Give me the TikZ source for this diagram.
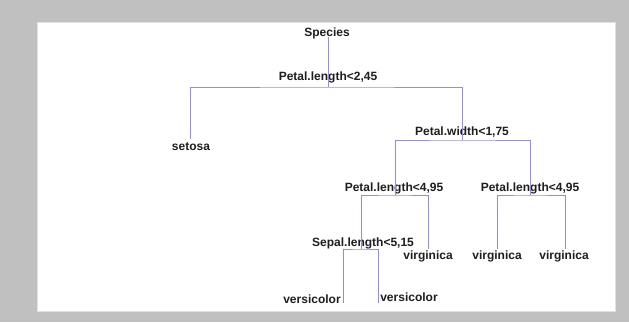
\documentclass[tikz,border=0pt]{standalone}
\usepackage{fontspec}
\setmainfont{Liberation Sans}
\definecolor{frame}{RGB}{192, 192, 192}
\definecolor{panel}{RGB}{255, 255, 255}
\definecolor{branch}{RGB}{140, 140, 255}
\definecolor{ink}{RGB}{30, 30, 30}
\usepackage{tikz}
\usetikzlibrary{positioning}
\tikzset{
    split/.style={font=\bfseries\fontsize{12}{14}\selectfont, text=ink, inner sep=0pt},
    leaf/.style={split},
    edge/.style={branch, line width=0.9pt}
}
\begin{document}
\begin{tikzpicture}[x=1pt, y=-1pt]
            \fill[frame] (0,0) rectangle (629,322);
            \fill[panel] (37,22) rectangle (615,311);
            \draw[black!12] (37,22) rectangle (615,311);
            \node[split] (species) at (327,33)  {Species};
            \node[split] (petlenA) at (328,77)  {Petal.length<2,45};
            \node[leaf]  (setosa)  at (191,147) {setosa};
            \node[split] (petwid)  at (462,132) {Petal.width<1,75};
            \node[split] (petlenB) at (394,188) {Petal.length<4,95};
            \node[split] (petlenC) at (530,188) {Petal.length<4,95};
            \node[split] (seplen)  at (363,243) {Sepal.length<5,15};
            \node[leaf]  (virgA)   at (428,256) {virginica};
            \node[leaf]  (virgB)   at (497,256) {virginica};
            \node[leaf]  (virgC)   at (564,256) {virginica};
            \node[leaf]  (versA)   at (312,299) {versicolor};
            \node[leaf]  (versB)   at (409,297) {versicolor};
            \coordinate (root)   at (328,37);
            \coordinate (sA)     at (328,87);
            \coordinate (sB)     at (462,140);
            \coordinate (sC)     at (395,195);
            \coordinate (sD)     at (530,195);
            \coordinate (sE)     at (361,249);
            \coordinate (setEnd) at (190,139);
            \coordinate (vAEnd)  at (428,249);
            \coordinate (vBEnd)  at (497,249);
            \coordinate (vCEnd)  at (565,249);
            \coordinate (wAEnd)  at (343,303);
            \coordinate (wBEnd)  at (378,303);
            \draw[edge] (root) -- (sA);
            \draw[edge] (setEnd) |- (sA) -| (sB);
            \draw[edge] (sC) |- (sB) -| (sD);
            \draw[edge] (sE) |- (sC) -| (vAEnd);
            \draw[edge] (vBEnd) |- (sD) -| (vCEnd);
            \draw[edge] (wAEnd) |- (sE) -| (wBEnd);
        \end{tikzpicture}
\end{document}
